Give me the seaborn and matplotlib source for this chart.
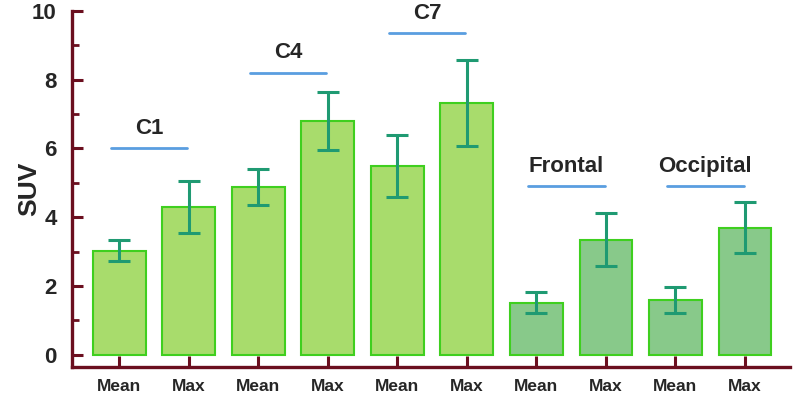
import numpy as np
import pandas as pd
import seaborn as sns
import matplotlib.pyplot as plt

regions = ["C1", "C4", "C7", "Frontal", "Occipital"]
stats = ["Mean", "Max"]
suv = [3.03, 4.30, 4.88, 6.80, 5.50, 7.32, 1.52, 3.35, 1.60, 3.70]
sd = [0.30, 0.75, 0.53, 0.85, 0.90, 1.25, 0.30, 0.77, 0.37, 0.73]
group_line_y = [6.0, 8.2, 9.35, 4.9, 4.9]

sns.set_style("white")
plt.rcParams["font.family"] = ["Liberation Sans", "DejaVu Sans"]
plt.rcParams["font.weight"] = "bold"

df = pd.DataFrame({
    "key": [f"{r}_{s}" for r in regions for s in stats],
    "region": [r for r in regions for s in stats],
    "stat": [s for r in regions for s in stats],
    "suv": suv,
    "sd": sd,
})
df["tone"] = np.where(df["region"].isin(["Frontal", "Occipital"]), "cortex", "cord")

axis_col = "#6b0f1f"
fig, ax = plt.subplots(figsize=(7.99, 4.01), dpi=100)
fig.subplots_adjust(left=0.09, right=0.989, top=0.973, bottom=0.085)

sns.barplot(data=df, x="key", y="suv", hue="tone",
            palette={"cord": "#a8dc6c", "cortex": "#88c98a"}, saturation=1,
            width=0.76, dodge=False, edgecolor="#3fcf1f", linewidth=1.5,
            legend=False, ax=ax)

xs = np.arange(len(df))
ax.errorbar(xs, df["suv"], yerr=df["sd"], fmt="none", ecolor="#1f9a72",
            elinewidth=2.2, capsize=8, capthick=2.2)

for i, (name, ly) in enumerate(zip(regions, group_line_y)):
    x0, x1 = 2 * i - 0.12, 2 * i + 0.98
    ax.plot([x0, x1], [ly, ly], color="#5a9ee0", lw=2)
    ax.text((x0 + x1) / 2, ly + 0.28, name, ha="center", va="bottom",
            fontsize=16, fontweight="bold")

ax.set_xlim(-0.68, 9.65)
ax.set_ylim(-0.35, 10)
ax.set_yticks(range(0, 11, 2))
ax.set_yticks(range(1, 10, 2), minor=True)
ax.set_xticks(xs)
ax.set_xticklabels(df["stat"], fontsize=12.5, fontweight="bold")
ax.tick_params(axis="y", which="major", labelsize=16, direction="in",
               length=8, width=2.2, color=axis_col, pad=11, left=True)
ax.tick_params(axis="y", which="minor", direction="in", length=5,
               width=2, color=axis_col, left=True)
ax.tick_params(axis="x", direction="in", length=8, width=2.2,
               color=axis_col, pad=9, bottom=True)
for lbl in ax.get_yticklabels():
    lbl.set_fontweight("bold")

ax.set_xlabel("")
ax.set_ylabel("SUV", fontsize=19, fontweight="bold", labelpad=-7)
for side in ["top", "right"]:
    ax.spines[side].set_visible(False)
for side in ["left", "bottom"]:
    ax.spines[side].set_color(axis_col)
    ax.spines[side].set_linewidth(2.4)

fig.savefig("out.png", dpi=100)
